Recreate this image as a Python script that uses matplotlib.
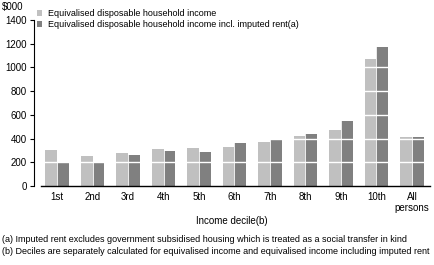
import matplotlib.pyplot as plt
import numpy as np

plt.rcParams['font.family'] = ['Liberation Sans Narrow', 'Liberation Sans', 'DejaVu Sans']

deciles = ["1st", "2nd", "3rd", "4th", "5th", "6th", "7th", "8th", "9th", "10th", "All\npersons"]
disp_income = [300, 250, 275, 310, 320, 330, 375, 425, 475, 1070, 410]
disp_income_rent = [195, 195, 260, 295, 285, 365, 395, 435, 550, 1170, 415]
yticks = [0, 200, 400, 600, 800, 1000, 1200, 1400]

light = "#c0c0c0"
dark = "#808080"

fig = plt.figure(figsize=(4.35, 2.65), dpi=100)
ax = fig.add_axes([34 / 435, 1 - 186 / 265, 396 / 435, 166 / 265])

x = np.arange(len(deciles))
w = 0.33
ax.bar(x - w / 2, disp_income, w, color=light, zorder=1,
       label="Equivalised disposable household income")
ax.bar(x + w / 2, disp_income_rent, w, color=dark, zorder=1,
       label="Equivalised disposable household income incl. imputed rent(a)")

# white gridlines drawn over the bars
for v in yticks[1:]:
    ax.axhline(v, color="white", linewidth=1, zorder=2)
# white separator between paired bars
for xi in x:
    ax.axvline(xi, color="white", linewidth=0.6, zorder=2)

ax.set_xlim(-0.65, 10.51)
ax.set_ylim(0, 1400)
ax.set_yticks(yticks)
ax.set_yticklabels([str(v) for v in yticks], fontsize=7)
ax.set_xticks(x)
ax.set_xticklabels(deciles, fontsize=7, linespacing=1.2, va="top")
ax.tick_params(axis="x", length=0, pad=4)
ax.tick_params(axis="y", length=3, width=0.8, pad=2)

for s in ["top", "right", "bottom"]:
    ax.spines[s].set_visible(False)
ax.spines["left"].set_linewidth(0.8)
ax.axhline(0, xmin=0.018, xmax=1, color="black", linewidth=1, zorder=3, clip_on=False)

fig.text(2 / 435, 1 - 7 / 265, "$000", fontsize=7, va="center", ha="left")

leg = fig.legend(loc="upper left", bbox_to_anchor=(37 / 435, 1 - 9 / 265),
                 frameon=False, fontsize=6.5, handlelength=0.6, handleheight=0.6,
                 handletextpad=0.6, labelspacing=0.25, borderaxespad=0, borderpad=0)

fig.text(232 / 435, 1 - 221 / 265, "Income decile(b)", fontsize=7, ha="center", va="center")
fig.text(2 / 435, 1 - 240 / 265,
         "(a) Imputed rent excludes government subsidised housing which is treated as a social transfer in kind",
         fontsize=6.5, ha="left", va="center")
fig.text(2 / 435, 1 - 252 / 265,
         "(b) Deciles are separately calculated for equivalised income and equivalised income including imputed rent",
         fontsize=6.5, ha="left", va="center")

fig.savefig("out.png", dpi=100)
